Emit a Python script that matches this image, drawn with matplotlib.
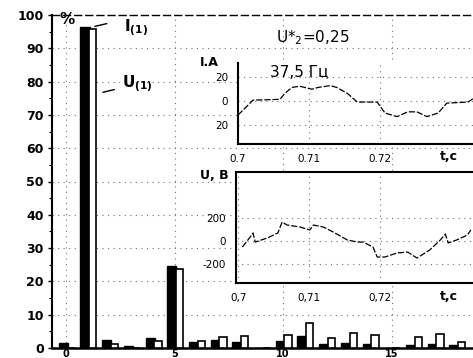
import numpy as np
import matplotlib
matplotlib.use('Agg')
import matplotlib.pyplot as plt

# harmonic spectrum, % of fundamental
harm = list(range(0, 19))
i_pct = [1.5, 96.4, 2.4, 0.6, 2.9, 24.6, 1.8, 2.5, 1.8, 0.0, 2.1, 3.6, 1.2, 1.5, 1.2, 0.0, 0.9, 1.2, 0.9]
u_pct = [0.0, 95.8, 1.2, 0.0, 2.1, 23.7, 2.1, 3.3, 3.6, 0.0, 3.9, 7.6, 3.0, 4.5, 3.9, 0.0, 3.3, 4.2, 1.8]
x_ticks = [0, 5, 10, 15]
y_ticks = list(range(0, 101, 10))

# current waveform, inset 1
t_i = [0.7000, 0.7017, 0.7021, 0.7059, 0.7066, 0.7076, 0.7087, 0.7104, 0.7113, 0.7130, 0.7139,
       0.7154, 0.7168, 0.7196, 0.7207, 0.7224, 0.7239, 0.7252, 0.7266, 0.7282, 0.7294, 0.7324, 0.7331]
i_a = [-11.7, -1.7, 0.8, 1.5, 6.5, 11.5, 12.5, 10.0, 11.5, 13.0, 11.5,
       6.5, -0.8, -0.8, -10.0, -13.0, -9.0, -9.0, -13.0, -10.0, -1.7, -0.8, 2.0]
i_yticks = [20, 0, -20]
i_ylabels = ['20', '0', '20']

# voltage waveform, inset 2
t_u = [0.7006, 0.7017, 0.7021, 0.7024, 0.7041, 0.7056, 0.7062, 0.7069, 0.7087, 0.7101, 0.7106,
       0.7120, 0.7134, 0.7154, 0.7168, 0.7176, 0.7190, 0.7196, 0.7207, 0.7224, 0.7239, 0.7252,
       0.7270, 0.7285, 0.7292, 0.7296, 0.7308, 0.7323, 0.7328]
u_v = [-52, 35, 70, -9, 26, 70, 165, 139, 122, 96, 139,
       122, 78, 9, -9, -9, -52, -139, -139, -104, -96, -148,
       -78, 9, 61, -17, 9, 52, 96]
u_yticks = [200, 0, -200]
u_ylabels = ['200', '0', '-200']

t_ticks = [0.70, 0.71, 0.72]
t_lab_i = ['0.7', '0.71', '0.72']
t_lab_u = ['0,7', '0,71', '0,72']

W, H = 473, 358
fig = plt.figure(figsize=(W / 100, H / 100), dpi=100)

def box(l, t, r, b):
    return [l / W, 1 - b / H, (r - l) / W, (b - t) / H]

dots = (0, (1, 4))

ax = fig.add_axes(box(52, 15, 473, 348))
x = np.array(harm)
ax.bar(x - 0.13, i_pct, width=0.42, color='black', edgecolor='black', lw=1, zorder=3)
ax.bar(x + 0.23, u_pct, width=0.34, color='white', edgecolor='black', lw=1.2, zorder=3)
ax.set_xlim(-0.65, 18.75)
ax.set_ylim(0, 100)
ax.set_xticks(x_ticks)
ax.set_yticks(y_ticks)
ax.set_yticks(range(5, 100, 10), minor=True)
ax.tick_params(axis='x', length=0, pad=1, labelsize=7)
ax.tick_params(axis='y', which='major', length=3, width=1, labelsize=9, pad=3)
ax.tick_params(axis='y', which='minor', length=2, width=0.8)
for lab in ax.get_xticklabels() + ax.get_yticklabels():
    lab.set_fontweight('bold')
ax.spines['right'].set_visible(False)
ax.spines['top'].set_linestyle((0, (5, 3)))
ax.spines['top'].set_linewidth(1)
ax.spines['left'].set_linewidth(1.5)
ax.spines['bottom'].set_linewidth(1.8)
ax.grid(True, ls=dots, lw=0.8, color='0.45', zorder=0)

ax.annotate('', xy=(1.2, 96.4), xytext=(2.0, 97.6),
            arrowprops=dict(arrowstyle='-', color='black', lw=1))
ax.annotate('', xy=(1.57, 76.6), xytext=(2.35, 77.8),
            arrowprops=dict(arrowstyle='-', color='black', lw=1))
fig.text(59 / W, 1 - 20 / H, '%', fontsize=11, fontweight='bold', va='center')
fig.text(124 / W, 1 - 28 / H, r'I$_{\mathbf{(1)}}$', fontsize=11, fontweight='bold', va='center')
fig.text(122 / W, 1 - 84 / H, r'U$_{\mathbf{(1)}}$', fontsize=11, fontweight='bold', va='center')
fig.text(313 / W, 1 - 38 / H, 'U*$_2$=0,25', fontsize=11, ha='center', va='center')

# inset 1: current
a1 = fig.add_axes(box(238, 63, 473, 144))
a1.set_facecolor('white')
a1.plot(t_i, i_a, color='black', lw=0.9, ls=(0, (5, 1.5)))
a1.set_xlim(0.7, 0.7331)
a1.set_ylim(-36, 32)
a1.set_yticks(i_yticks)
a1.set_yticklabels(i_ylabels)
a1.set_xticks(t_ticks)
a1.set_xticklabels(t_lab_i)
a1.tick_params(length=0, labelsize=7.5, pad=7)
a1.spines['top'].set_visible(False)
a1.spines['right'].set_visible(False)
a1.spines['left'].set_linewidth(1.5)
a1.spines['bottom'].set_linewidth(1.5)
a1.grid(True, ls=dots, lw=0.8, color='0.45')
a1.text(0.7045, 24, '37,5 Гц', fontsize=11, ha='left', va='center')
fig.text(200 / W, 1 - 62 / H, 'I.A', fontsize=9, fontweight='bold', va='center')
fig.text(440 / W, 1 - 157 / H, 't,c', fontsize=9, fontweight='bold', va='center')

# inset 2: voltage
a2 = fig.add_axes(box(236, 172, 473, 283))
a2.set_facecolor('white')
a2.plot(t_u, u_v, color='black', lw=0.9, ls=(0, (5, 1.5)))
a2.set_xlim(0.6997, 0.7331)
a2.set_ylim(-365, 600)
a2.set_yticks(u_yticks)
a2.set_yticklabels(u_ylabels)
a2.set_xticks(t_ticks)
a2.set_xticklabels(t_lab_u)
a2.tick_params(length=0, labelsize=7.5, pad=7)
a2.spines['right'].set_visible(False)
for s in ['left', 'top', 'bottom']:
    a2.spines[s].set_linewidth(1.5)
a2.grid(True, ls=dots, lw=0.8, color='0.45')
fig.text(200 / W, 1 - 176 / H, 'U, B', fontsize=9, fontweight='bold', va='center')
fig.text(440 / W, 1 - 297 / H, 't,c', fontsize=9, fontweight='bold', va='center')

fig.savefig('out.png', dpi=100)
